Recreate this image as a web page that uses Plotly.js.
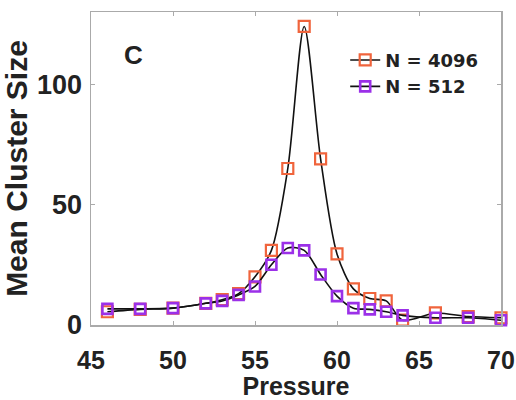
<!DOCTYPE html>
<html>
<head>
<meta charset="utf-8">
<script src="https://cdn.plot.ly/plotly-3.0.1.min.js"></script>
<style>html,body{margin:0;padding:0;background:#fff;}#chart{width:516px;height:400px;}</style>
</head>
<body>
<div id="chart"></div>
<script>
const pressure4096 = [46, 48, 50, 52, 53, 54, 55, 56, 57, 58, 59, 60, 61, 62, 63, 64, 66, 68, 70];
const size4096     = [5.5, 6.5, 7, 9, 10.5, 13, 20, 31, 65, 124, 69, 29.5, 15, 11, 10, 2, 5, 3.5, 3];
const pressure512  = [46, 48, 50, 52, 53, 54, 55, 56, 57, 58, 59, 60, 61, 62, 63, 64, 66, 68, 70];
const size512      = [6.7, 6.7, 7, 9, 10, 12.5, 16, 25, 32, 31, 21, 12, 7, 6.5, 5.5, 4, 3, 3, 2];
const seriesNames  = ["N = 4096", "N = 512"];
const xTicks = [45, 50, 55, 60, 65, 70];
const yTicks = [0, 50, 100];
const panelLabel = "C";

const FONT = '"Liberation Sans", Arial, sans-serif';
const LFONT = '"DejaVu Sans", sans-serif';

const traces = [
  {
    x: pressure4096, y: size4096, name: seriesNames[0],
    type: 'scatter', mode: 'lines+markers', cliponaxis: false,
    line: {color: '#111', width: 1.6, shape: 'spline', smoothing: 0.8},
    marker: {symbol: 'square-open', size: 11, color: '#f0643c', line: {width: 2.2, color: '#f0643c'}}
  },
  {
    x: pressure512, y: size512, name: seriesNames[1],
    type: 'scatter', mode: 'lines+markers', cliponaxis: false,
    line: {color: '#111', width: 1.6, shape: 'spline', smoothing: 0.8},
    marker: {symbol: 'square-open', size: 10, color: '#9b30e8', line: {width: 2.6, color: '#9b30e8'}}
  }
];

const layout = {
  width: 516, height: 400,
  margin: {l: 91, r: 15, t: 12, b: 75},
  paper_bgcolor: '#fff', plot_bgcolor: '#fff',
  font: {family: FONT, color: '#222', size: 20},
  showlegend: true,
  legend: {
    x: 0.62, y: 0.905, xanchor: 'left', yanchor: 'top',
    bgcolor: 'rgba(0,0,0,0)', borderwidth: 0,
    font: {family: LFONT, size: 18, color: '#222', weight: 'bold'},
    tracegroupgap: 0, itemwidth: 30
  },
  xaxis: {
    range: [45, 70], tickvals: xTicks, ticktext: xTicks.map(String),
    ticks: 'inside', ticklen: 4, tickcolor: '#aaa',
    showline: true, linecolor: '#aaa', linewidth: 1.5, mirror: 'ticks',
    showgrid: false, zeroline: false,
    tickfont: {family: FONT, size: 25, color: '#222', weight: 'bold'},
    ticklabelstandoff: 12, ticklabeloverflow: 'allow',
    title: {text: 'Pressure', font: {family: FONT, size: 25, color: '#222', weight: 'bold'}, standoff: 4}
  },
  yaxis: {
    range: [0, 130], tickvals: yTicks, ticktext: yTicks.map(String),
    ticks: 'inside', ticklen: 4, tickcolor: '#aaa',
    showline: true, linecolor: '#aaa', linewidth: 1.5, mirror: 'ticks',
    showgrid: false, zeroline: false,
    tickfont: {family: FONT, size: 27, color: '#222', weight: 'bold'},
    ticklabelstandoff: 2, ticklabeloverflow: 'allow',
    title: {text: 'Mean Cluster Size', font: {family: FONT, size: 30, color: '#222', weight: 'bold'}, standoff: 0}
  },
  annotations: [
    {text: panelLabel, xref: 'x', yref: 'y', x: 47.6, y: 112, showarrow: false,
     font: {family: FONT, size: 26, color: '#222', weight: 'bold'}}
  ]
};

Plotly.newPlot('chart', traces, layout, {displayModeBar: false, staticPlot: true});
</script>
</body>
</html>
